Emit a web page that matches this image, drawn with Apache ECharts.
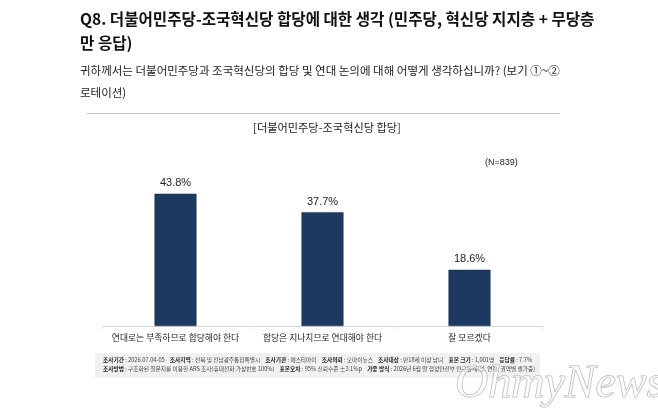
<!DOCTYPE html>
<html>
<head>
<meta charset="utf-8">
<script src="https://cdn.jsdelivr.net/npm/echarts@6/dist/echarts.min.js"></script>
<style>
  html, body { margin: 0; padding: 0; background: #fff; }
  #chart { width: 658px; height: 420px; }
</style>
</head>
<body>
<div id="chart"></div>
<script>
// 데이터
const categories = ["연대로는 부족하므로 합당해야 한다", "합당은 지나치므로 연대해야 한다", "잘 모르겠다"];
const values = [43.8, 37.7, 18.6];
const sampleNote = "(N=839)";

const KR = "'Noto Sans CJK KR', sans-serif";
const NUM = "'Liberation Sans', 'Noto Sans CJK KR', sans-serif";

const chart = echarts.init(document.getElementById("chart"));

const footLine1 =
  "{b|조사기간} : 2026.07.04-05    {b|조사지역} : 전북 및 전남광주통합특별시    {b|조사기관} : 에스티아이    " +
  "{b|조사의뢰} : 오마이뉴스    {b|조사대상} : 만18세 이상 남녀    {b|표본 크기} : 1,001명    {b|응답률} : 7.7%";
const footLine2 =
  "{b|조사방법} : 구조화된 질문지를 이용한 ARS 조사(휴대전화 가상번호 100%)    {b|표본오차} : 95% 신뢰수준 ±3.1%p    " +
  "{b|가중 방식} : 2026년 6월 말 행정안전부 인구통계(성, 연령, 권역별 셀가중)";

const footRich = {
  b: { fontWeight: "bold", fontSize: 5.7, fontFamily: KR, fill: "#222" }
};

const option = {
  backgroundColor: "#fff",
  animation: false,
  grid: { left: 102, right: 115, top: 175, bottom: 94 },
  xAxis: {
    type: "category",
    data: categories,
    axisLine: { lineStyle: { color: "#d9d9d9", width: 1 } },
    axisTick: { show: true, length: 3, lineStyle: { color: "#e4e4e4" } },
    axisLabel: { color: "#222", fontSize: 8.8, fontFamily: KR, margin: 7, interval: 0 }
  },
  yAxis: {
    type: "value",
    min: 0,
    max: 50,
    show: false,
    splitLine: { show: false }
  },
  series: [
    {
      type: "bar",
      data: values,
      barWidth: 42,
      itemStyle: { color: "#1d3961", borderColor: "#17304f", borderWidth: 0.5 },
      label: {
        show: true,
        position: "top",
        distance: 5,
        color: "#222",
        fontSize: 11,
        fontFamily: NUM,
        formatter: (p) => p.value.toFixed(1) + "%"
      }
    }
  ],
  graphic: [
    {
      type: "text", left: 80, top: 11,
      style: {
        text: "Q8. 더불어민주당-조국혁신당 합당에 대한 생각 (민주당, 혁신당 지지층 + 무당층",
        fontSize: 15.6, fontWeight: "bold", fontFamily: KR, fill: "#111"
      }
    },
    {
      type: "text", left: 80, top: 35,
      style: { text: "만 응답)", fontSize: 15.6, fontWeight: "bold", fontFamily: KR, fill: "#111" }
    },
    {
      type: "text", left: 80, top: 65,
      style: {
        text: "귀하께서는 더불어민주당과 조국혁신당의 합당 및 연대 논의에 대해 어떻게 생각하십니까? (보기 ①~②",
        fontSize: 11.5, fontFamily: KR, fill: "#222"
      }
    },
    {
      type: "text", left: 80, top: 87,
      style: { text: "로테이션)", fontSize: 11.5, fontFamily: KR, fill: "#222" }
    },
    {
      type: "line",
      shape: { x1: 87, y1: 113.5, x2: 560, y2: 113.5 },
      style: { stroke: "#c4c4c4", lineWidth: 1 }
    },
    {
      type: "text", x: 327, y: 128,
      style: {
        text: "[더불어민주당-조국혁신당 합당]",
        fontSize: 11.2, fontFamily: KR, fill: "#222", align: "center", verticalAlign: "middle"
      }
    },
    {
      type: "text", x: 485, y: 163,
      style: { text: sampleNote, fontSize: 9, fontFamily: NUM, fill: "#222", verticalAlign: "middle" }
    },
    {
      type: "rect",
      shape: { x: 95, y: 353, width: 445, height: 25 },
      style: { fill: "#f1f1f1" }
    },
    {
      type: "text", x: 103, y: 360,
      style: { text: footLine1, rich: footRich, fontSize: 5.7, fontFamily: KR, fill: "#444", verticalAlign: "middle" }
    },
    {
      type: "text", x: 103, y: 369,
      style: { text: footLine2, rich: footRich, fontSize: 5.7, fontFamily: KR, fill: "#444", verticalAlign: "middle" }
    },
    {
      type: "text", x: 455, y: 385,
      style: {
        text: "OhmyNews",
        fontSize: 46, fontStyle: "italic", fontFamily: "'Liberation Serif', serif",
        fill: "rgba(255,255,255,0.55)", stroke: "#b5b5b5", lineWidth: 1,
        verticalAlign: "middle"
      }
    }
  ]
};

chart.setOption(option);
</script>
</body>
</html>
